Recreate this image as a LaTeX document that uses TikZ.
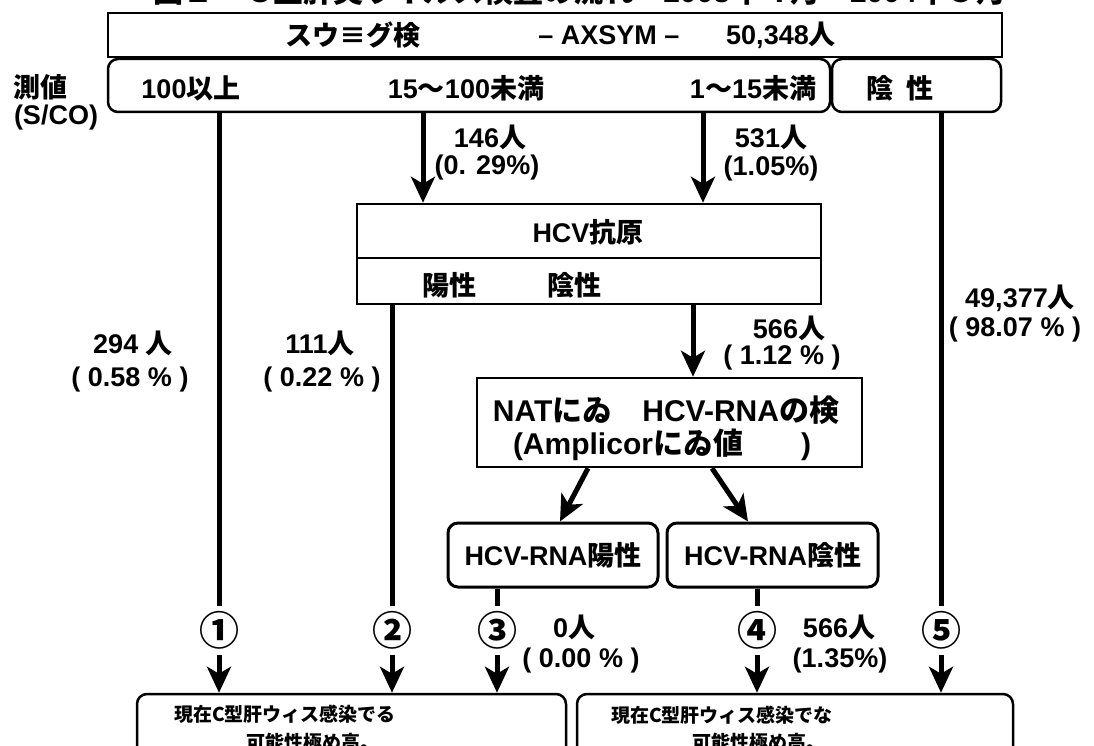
\documentclass[tikz,border=0pt]{standalone}
\usepackage{fontspec}
\setmainfont{Liberation Sans}
\newfontfamily\jp{Noto Sans CJK JP}
\usetikzlibrary{arrows.meta,calc}
\newcommand\J[1]{{\jp #1}}
\begin{document}
\begin{tikzpicture}[x=1pt,y=-1pt,
  font=\fontsize{27}{30}\selectfont\bfseries,
  box/.style={draw, line width=2.5pt, inner sep=0pt},
  rbox/.style={box, rounded corners=10pt},
  lbl/.style={inner sep=0pt, align=center},
  ln/.style={line width=5pt},
  arr/.style={line width=5pt, -{Stealth[length=26pt,width=24pt,inset=7pt]}},
  circ/.style={inner sep=0pt, minimum height=49pt, font=\fontsize{40}{42}\selectfont\bfseries\jp},
  small/.style={lbl, anchor=west, font=\fontsize{19}{21}\selectfont\bfseries\jp},
]
\clip (0,0) rectangle (1094,746);
\fill[white] (0,0) rectangle (1094,746);

% title (cut off at the top)
\node[lbl, font=\fontsize{30}{32}\selectfont\bfseries] (title) at (580,-9)
  {\J{図２　Ｃ型肝炎ウイルス検査の流れ　}2003\J{年４月～}2004\J{年３月}};

% top box
\node[box, minimum width=894pt, minimum height=44pt] (top) at (555,35) {};
\node[lbl] (t1) at (353,35) {\J{スウ≡グ検}};
\node[lbl] (t2) at (609,35) {– AXSYM –};
\node[lbl] (t3) at (781,35) {50,348\J{人}};

% row of ranges
\node[rbox, minimum width=722pt, minimum height=53pt] (row) at (469,85.5) {};
\node[rbox, minimum width=169pt, minimum height=53pt] (neg) at (916.5,85.5) {};
\node[lbl] (r1) at (191,88) {100\J{以上}};
\node[lbl] (r2) at (466,88) {15\J{〜}100\J{未満}};
\node[lbl] (r3) at (753,88) {1\J{〜}15\J{未満}};
\node[lbl] (r4) at (900,88) {\J{陰}\hspace{14pt}\J{性}};
\node[lbl] (m1) at (40,87) {\J{測値}};
\node[lbl] (m2) at (56,118) {(S/CO)};

% HCV antigen box
\node[box, minimum width=464pt, minimum height=100pt] (hcv) at (589,254) {};
\draw[line width=2.5pt] ($(hcv.west)+(0,4)$) -- ($(hcv.east)+(0,4)$);
\node[lbl] (h1) at (588,232) {HCV\J{抗原}};
\node[lbl] (h2) at (449,285) {\J{陽性}};
\node[lbl] (h3) at (574,285) {\J{陰性}};

% NAT box
\node[box, minimum width=385pt, minimum height=89pt] (nat) at (669.5,422.5) {};
\node[lbl, font=\fontsize{30}{32}\selectfont\bfseries] (n1) at (666,410)
  {NAT\J{にゐ}\hspace{30pt}HCV-RNA\J{の検}};
\node[lbl, font=\fontsize{30}{32}\selectfont\bfseries] (n2) at (662,445)
  {(Amplicor\J{にゐ値}\hspace{58pt})};

% RNA result boxes
\node[rbox, line width=3pt, minimum width=210pt, minimum height=64pt] (pos) at (553,555) {HCV-RNA\J{陽性}};
\node[rbox, line width=3pt, minimum width=211pt, minimum height=64pt] (negr) at (772.5,555) {HCV-RNA\J{陰性}};

% result boxes (cut off at the bottom)
\node[rbox, minimum width=429pt, minimum height=70pt] (res1) at (351.5,729) {};
\node[rbox, minimum width=436pt, minimum height=70pt] (res2) at (795,729) {};
\node[small] (b1) at (174,714) {現在C型肝ウィス感染でる};
\node[small] (b2) at (246,742) {可能性極め高。};
\node[small] (b3) at (611,715) {現在C型肝ウィス感染でな};
\node[small] (b4) at (692,742) {可能性極め高。};

% circled numbers
\node[circ] (c1) at (219,630.5) {①};
\node[circ] (c2) at (392,630.5) {②};
\node[circ] (c3) at (497,630.5) {③};
\node[circ] (c4) at (757,630.5) {④};
\node[circ] (c5) at (941,630.5) {⑤};

% x positions of the arrows
\coordinate (a1) at (423,0);
\coordinate (a2) at (703,0);
\coordinate (a3) at (693,0);
\coordinate (d1) at (588,0);
\coordinate (d2) at (560,0);
\coordinate (d3) at (712,0);
\coordinate (d4) at (748,0);

% connectors
\draw[arr] (row.south -| a1) -- (hcv.north -| a1);
\draw[arr] (row.south -| a2) -- (hcv.north -| a2);
\draw[arr] (hcv.south -| a3) -- (nat.north -| a3);
\draw[arr] (nat.south -| d1) -- (pos.north -| d2);
\draw[arr] (nat.south -| d3) -- (negr.north -| d4);

\draw[ln] (row.south -| c1) -- (c1.north);
\draw[ln] (hcv.south -| c2) -- (c2.north);
\draw[ln] (pos.south -| c3) -- (c3.north);
\draw[ln] (negr.south -| c4) -- (c4.north);
\draw[ln] (neg.south -| c5) -- (c5.north);
\draw[arr] (c1.south) -- (res1.north -| c1);
\draw[arr] (c2.south) -- (res1.north -| c2);
\draw[arr] (c3.south) -- (res1.north -| c3);
\draw[arr] (c4.south) -- (res2.north -| c4);
\draw[arr] (c5.south) -- (res2.north -| c5);

% counts
\node[lbl] (k1) at (490,137) {146\J{人}};
\node[lbl] (k1p) at (487,168) {(0. 29\%)};
\node[lbl] (k2) at (771,137) {531\J{人}};
\node[lbl] (k2p) at (771,169) {(1.05\%)};
\node[lbl] (k3) at (789,328) {566\J{人}};
\node[lbl] (k3p) at (782,358) {( 1.12 \% )};
\node[lbl] (k4) at (133,343) {294 \J{人}};
\node[lbl] (k4p) at (130,380) {( 0.58 \% )};
\node[lbl] (k5) at (320,343) {111\J{人}};
\node[lbl] (k5p) at (322,380) {( 0.22 \% )};
\node[lbl] (k6) at (1020,298) {49,377\J{人}};
\node[lbl] (k6p) at (1015,330) {( 98.07 \% )};
\node[lbl] (k7) at (574,627) {0\J{人}};
\node[lbl] (k7p) at (581,661) {( 0.00 \% )};
\node[lbl] (k8) at (839,627) {566\J{人}};
\node[lbl] (k8p) at (840,661) {(1.35\%)};
\end{tikzpicture}
\end{document}
